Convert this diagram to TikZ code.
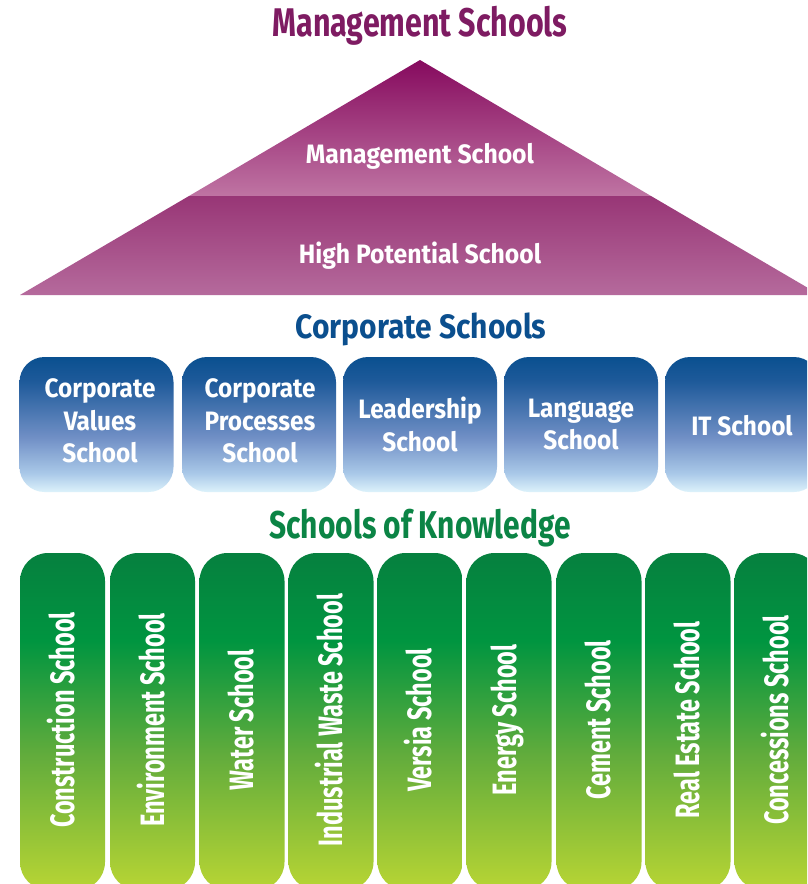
\documentclass[tikz,border=0pt]{standalone}
\usepackage{fontspec}
\newfontfamily\cfA{Fira Sans}[FakeStretch=0.76]
\newfontfamily\cfB{Fira Sans}[FakeStretch=0.887]
\newfontfamily\cfC{Fira Sans}[FakeStretch=0.774]
\newfontfamily\cfD{Fira Sans}[FakeStretch=0.93]
\newfontfamily\cfE{Fira Sans}[FakeStretch=0.916]
\newfontfamily\cfF{Fira Sans}[FakeStretch=0.694]
\definecolor{mgtitle}{HTML}{7E1B62}
\definecolor{cptitle}{HTML}{0B4F8E}
\definecolor{kntitle}{HTML}{0B8445}
\definecolor{pyA}{HTML}{860A5E}
\definecolor{pyB}{HTML}{BF74A3}
\definecolor{pyC}{HTML}{983676}
\definecolor{pyD}{HTML}{B56A9C}
\definecolor{bT}{HTML}{0A5090}
\definecolor{bT2}{HTML}{1E5A9A}
\definecolor{bM}{HTML}{7190C6}
\definecolor{bL}{HTML}{A9C8E8}
\definecolor{bB}{HTML}{DDF2FB}
\definecolor{gT}{HTML}{06803F}
\definecolor{gT2}{HTML}{009540}
\definecolor{gM}{HTML}{62AC3C}
\definecolor{gB}{HTML}{B8D534}
\pgfdeclareverticalshading{bluesh}{100bp}{color(0bp)=(bB); color(25bp)=(bB); color(32bp)=(bL); color(45bp)=(bM); color(66bp)=(bT2); color(75bp)=(bT); color(100bp)=(bT)}
\pgfdeclareverticalshading{greensh}{100bp}{color(0bp)=(gB); color(25bp)=(gB); color(45bp)=(gM); color(62bp)=(gT2); color(75bp)=(gT); color(100bp)=(gT)}
\tikzset{
  mgthead/.style={font=\cfA\bfseries\fontsize{40}{44}\selectfont, text=mgtitle, anchor=base, inner sep=0pt},
  cphead/.style={font=\cfB\bfseries\fontsize{33.8}{36}\selectfont, text=cptitle, anchor=base, inner sep=0pt},
  knhead/.style={font=\cfC\bfseries\fontsize{38.7}{42}\selectfont, text=kntitle, anchor=base, inner sep=0pt},
  pytext/.style={text=white, font=\cfD\bfseries\fontsize{26.6}{30}\selectfont, anchor=base, inner sep=0pt},
  wtext/.style={text=white, font=\cfE\bfseries\fontsize{26.6}{32.5}\selectfont, align=center, inner sep=0pt},
  cbox/.style={rounded corners=25pt, minimum width=154pt, minimum height=135pt, shading=bluesh, inner sep=0pt},
  kbox/.style={rounded corners=28pt, minimum width=85pt, minimum height=337pt, shading=greensh, inner sep=0pt},
  vtext/.style={text=white, font=\cfF\bfseries\fontsize{33.8}{36}\selectfont, rotate=90, inner sep=0pt},
}
\begin{document}
\begin{tikzpicture}[x=1pt,y=-1pt]
\clip (0,0) rectangle (807,884);
\fill[white] (0,0) rectangle (807,884);
% pyramid
\coordinate (apex) at (420,60);
\coordinate (dl) at (189,196);
\coordinate (dr) at (651,196);
\coordinate (bl) at (20,295);
\coordinate (br) at (820,295);
\shade[top color=pyA, bottom color=pyB] (apex) -- (dr) -- (dl) -- cycle;
\shade[top color=pyC, bottom color=pyD] (dl) -- (dr) -- (br) -- (bl) -- cycle;
\node[mgthead] (mt) at (420,36.7) {Management Schools};
\node[pytext] (ms) at (420,163.3) {Management School};
\node[pytext] (hp) at (420,263.3) {High Potential School};
% corporate
\node[cphead] (ct) at (421,338.3) {Corporate Schools};
\node[cbox] (c1) at (96.5,424.5) {};
\node[cbox] (c2) at (259,424.5) {};
\node[cbox] (c3) at (420,424.5) {};
\node[cbox] (c4) at (581,424.5) {};
\node[cbox] (c5) at (742,424.5) {};
\node[wtext] (c1t) at (100,421) {Corporate\\Values\\School};
\node[wtext] (c2t) at (260,421) {Corporate\\Processes\\School};
\node[wtext] (c3t) at (420,424.5) {Leadership\\School};
\node[wtext] (c4t) at (581,424.5) {Language\\School};
\node[wtext] (c5t) at (742,426) {IT School};
% knowledge
\node[knhead] (kt) at (420,538.3) {Schools of Knowledge};
\node[kbox] (k1) at (62.5,721.5) {};
\node[kbox] (k2) at (152.5,721.5) {};
\node[kbox] (k3) at (242,721.5) {};
\node[kbox] (k4) at (331,721.5) {};
\node[kbox] (k5) at (420,721.5) {};
\node[kbox] (k6) at (509,721.5) {};
\node[kbox] (k7) at (599,721.5) {};
\node[kbox] (k8) at (688,721.5) {};
\node[kbox] (k9) at (777,721.5) {};
\node[vtext] (k1t) at (61,720) {Construction School};
\node[vtext] (k2t) at (151,720) {Environment School};
\node[vtext] (k3t) at (240.5,720) {Water School};
\node[vtext] (k4t) at (329.5,720) {Industrial Waste School};
\node[vtext] (k5t) at (418.5,720) {Versia School};
\node[vtext] (k6t) at (507.5,720) {Energy School};
\node[vtext] (k7t) at (597.5,720) {Cement School};
\node[vtext] (k8t) at (686.5,720) {Real Estate School};
\node[vtext] (k9t) at (775.5,720) {Concessions School};
\end{tikzpicture}
\end{document}
